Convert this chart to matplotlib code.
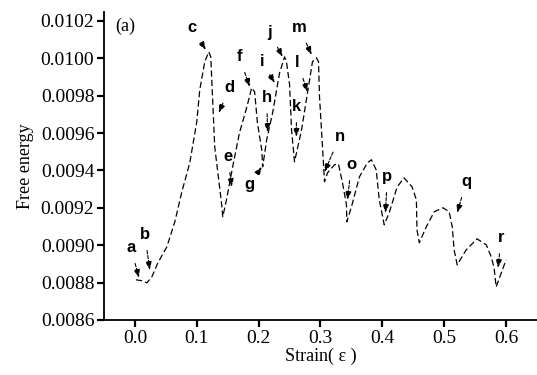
import matplotlib
matplotlib.use("Agg")
import matplotlib.pyplot as plt

# ---- data ----
strain = [0.0016, 0.0113, 0.0194, 0.0274, 0.0371, 0.0516, 0.0645, 0.0758, 0.0887, 0.100,
          0.1048, 0.1129, 0.1194, 0.1226, 0.129, 0.1403, 0.142, 0.148, 0.158, 0.169,
          0.181, 0.1887, 0.1935, 0.198, 0.205, 0.2065, 0.213, 0.2226, 0.2339, 0.2419,
          0.245, 0.250, 0.2532, 0.258, 0.2694, 0.279, 0.287, 0.2935, 0.2968, 0.2984,
          0.3016, 0.3065, 0.3113, 0.3226, 0.329, 0.3355, 0.342, 0.3425, 0.350, 0.363,
          0.3758, 0.3823, 0.390, 0.395, 0.403, 0.411, 0.424, 0.435, 0.448, 0.455,
          0.456, 0.4597, 0.471, 0.4839, 0.498, 0.508, 0.513, 0.516, 0.521, 0.5355,
          0.553, 0.568, 0.576, 0.5806, 0.584, 0.600]
energy = [0.008815, 0.008810, 0.008799, 0.008831, 0.008906, 0.008991, 0.009125, 0.009285, 0.009441, 0.009660,
          0.009831, 0.009981, 0.010034, 0.010007, 0.009526, 0.009216, 0.009152, 0.009243, 0.009419, 0.009601,
          0.009740, 0.009842, 0.009820, 0.009655, 0.009510, 0.009419, 0.009564, 0.009708, 0.009922, 0.010007,
          0.009981, 0.009858, 0.009617, 0.009446, 0.009617, 0.009815, 0.009981, 0.010002, 0.009981, 0.009794,
          0.009617, 0.009339, 0.009387, 0.009430, 0.009435, 0.009334, 0.009216, 0.009125, 0.009205, 0.009366,
          0.009441, 0.009457, 0.009403, 0.009243, 0.009109, 0.009173, 0.009312, 0.009360, 0.009312, 0.009243,
          0.009082, 0.009013, 0.009098, 0.009179, 0.009200, 0.009179, 0.009098, 0.008975, 0.008895, 0.008975,
          0.009034, 0.009002, 0.008938, 0.008879, 0.008777, 0.008922]

point_labels = ["a", "b", "c", "d", "e", "f", "g", "h", "i", "j",
                "k", "l", "m", "n", "o", "p", "q", "r"]
label_x = [-0.0065, 0.016, 0.092, 0.153, 0.150, 0.169, 0.1855, 0.213, 0.205, 0.218,
           0.261, 0.263, 0.266, 0.331, 0.350, 0.408, 0.5355, 0.592]
label_y = [0.008986, 0.009056, 0.010163, 0.009842, 0.009473, 0.010007, 0.009323, 0.009788, 0.009981, 0.010136,
           0.009740, 0.009975, 0.010163, 0.009580, 0.009430, 0.009366, 0.009339, 0.009039]
tip_x = [0.0065, 0.024, 0.1145, 0.1355, 0.1565, 0.1855, 0.205, 0.2145, 0.226, 0.2387,
         0.261, 0.279, 0.2855, 0.3065, 0.3435, 0.405, 0.521, 0.587]
tip_y = [0.008826, 0.008868, 0.010045, 0.009708, 0.009312, 0.009847, 0.009419, 0.009606, 0.009868, 0.010007,
         0.009580, 0.009820, 0.010018, 0.009392, 0.009243, 0.009173, 0.009173, 0.008879]

x_ticks = [0.0, 0.1, 0.2, 0.3, 0.4, 0.5, 0.6]
y_ticks = [0.0086, 0.0088, 0.0090, 0.0092, 0.0094, 0.0096, 0.0098, 0.0100, 0.0102]

# ---- figure ----
fig = plt.figure(figsize=(5.37, 3.75), dpi=100)
ax = fig.add_axes([104 / 537, 1 - 320 / 375, 433 / 537, 308 / 375])

ax.plot(strain, energy, color="black", lw=0.9, linestyle=(0, (5, 2.5)))

for lab, lx, ly, tx, ty in zip(point_labels, label_x, label_y, tip_x, tip_y):
    ax.annotate(lab, xy=(tx, ty), xytext=(lx, ly), ha="center", va="center",
                fontsize=12, fontweight="bold", family="Liberation Sans",
                arrowprops=dict(arrowstyle="-|>,head_length=0.4,head_width=0.15",
                                color="black", lw=0.8, shrinkA=4, shrinkB=0,
                                linestyle=(0, (3, 1.5))))

ax.set_xlim(-0.05, 0.65)
ax.set_ylim(0.0086, 0.0086 + 308 * 0.0002 / 37.4)
ax.set_xticks(x_ticks)
ax.set_xticklabels([f"{v:.1f}" for v in x_ticks])
ax.set_yticks(y_ticks)
ax.set_yticklabels([f"{v:.4f}" for v in y_ticks])

for side in ("top", "right"):
    ax.spines[side].set_visible(False)
for side in ("left", "bottom"):
    ax.spines[side].set_linewidth(1.3)

ax.tick_params(direction="out", length=5, width=1.6, labelsize=14, pad=2)
for t in ax.get_xticklabels() + ax.get_yticklabels():
    t.set_family("Liberation Serif")

ax.text(-0.032, 0.01017, "(a)", family="Liberation Serif", fontsize=13,
        ha="left", va="center")

ax.set_xlabel("Strain( ε )", family="Liberation Serif", fontsize=13, labelpad=1)
ax.set_ylabel("Free energy", family="Liberation Serif", fontsize=13, labelpad=5)

fig.savefig("out.png", dpi=100)
